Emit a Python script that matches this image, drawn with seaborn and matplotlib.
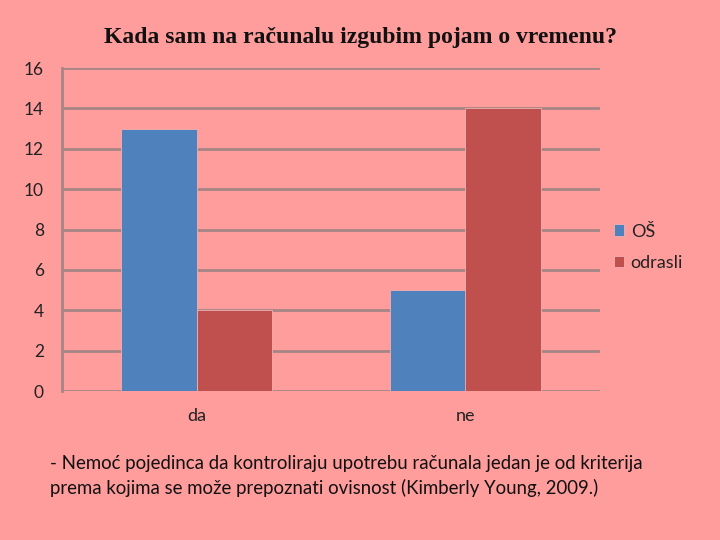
import pandas as pd
import numpy as np
import matplotlib
matplotlib.use('Agg')
import matplotlib.pyplot as plt
import seaborn as sns

# donnees
kategorije = ['da', 'ne']
serije = ['OŠ', 'odrasli']
vrijednosti_os = [13, 5]
vrijednosti_odrasli = [4, 14]
boje = ['#4F81BD', '#C0504D']
pozadina = '#FF9C9C'

df = pd.DataFrame({
    'odgovor': kategorije * 2,
    'skupina': [serije[0]] * 2 + [serije[1]] * 2,
    'broj': vrijednosti_os + vrijednosti_odrasli,
})

sns.set_style('white')
plt.rcParams['font.family'] = ['Lato', 'DejaVu Sans']

fig = plt.figure(figsize=(7.2, 5.4), dpi=100, facecolor=pozadina)
ax = fig.add_axes([62 / 720, 1 - 391 / 540, 538 / 720, 323 / 540])
ax.set_facecolor(pozadina)

sns.barplot(data=df, x='odgovor', y='broj', hue='skupina', palette=boje,
            width=0.565, saturation=1, ax=ax, zorder=3,
            edgecolor='#F2B0B0', linewidth=0.6)

ax.set_ylim(0, 16)
ax.set_yticks(range(0, 17, 2))
ax.set_xlim(-0.5, 1.5)
ax.yaxis.grid(True, color='#A68585', linewidth=2, zorder=0)
ax.set_axisbelow(True)
for s in ['top', 'right', 'bottom']:
    ax.spines[s].set_visible(False)
ax.spines['left'].set_color('#A68585')
ax.spines['left'].set_linewidth(2)
ax.tick_params(axis='y', length=0, pad=13, labelsize=12.5, labelcolor='#222222')
ax.tick_params(axis='x', length=0, pad=12, labelsize=13, labelcolor='#222222')
ax.set_xlabel('')
ax.set_ylabel('')

leg = ax.legend(loc='center left', bbox_to_anchor=(0.995, 0.445), frameon=False,
                fontsize=13, handlelength=0.6, handleheight=0.6,
                handletextpad=0.35, labelspacing=0.85)
for t in leg.get_texts():
    t.set_color('#222222')

fig.text(0.5, 1 - 38 / 540, 'Kada sam na računalu izgubim pojam o vremenu?',
         ha='center', va='center', fontsize=17, fontweight='bold',
         family=['Liberation Serif', 'DejaVu Serif'], color='#111111')

fig.text(50 / 720, 1 - 476 / 540,
         '- Nemoć pojedinca da kontroliraju upotrebu računala jedan je od kriterija\n'
         'prema kojima se može prepoznati ovisnost (Kimberly Young, 2009.)',
         ha='left', va='center', fontsize=13.4, color='#111111', linespacing=1.45)

fig.savefig('out.png', dpi=100, facecolor=pozadina)
